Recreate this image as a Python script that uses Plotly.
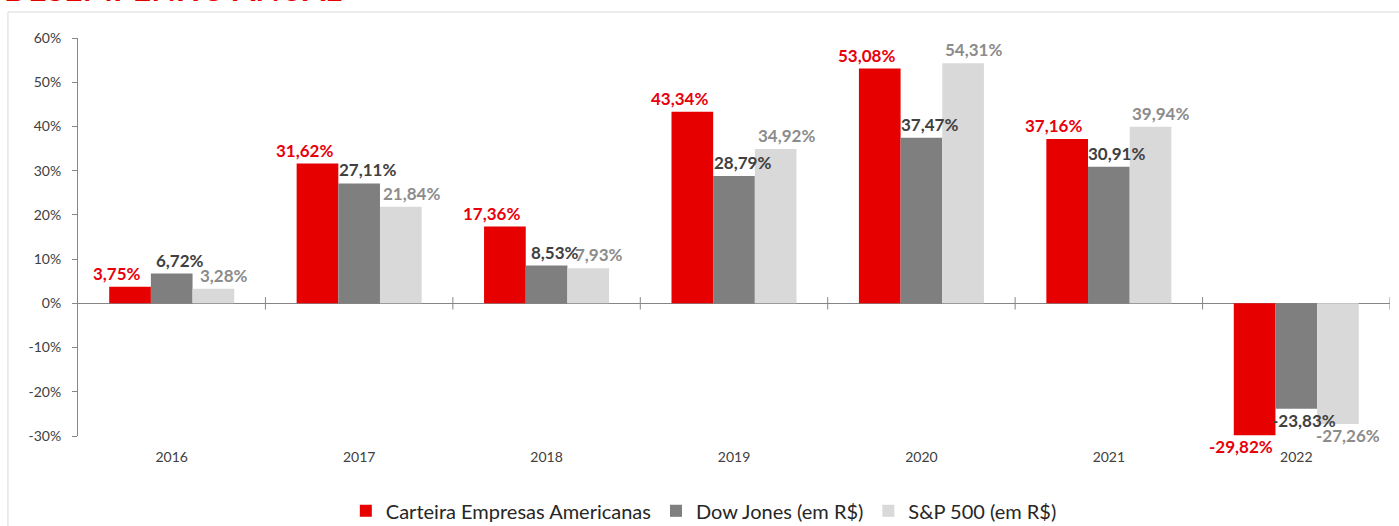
import plotly.graph_objects as go

years = ["2016", "2017", "2018", "2019", "2020", "2021", "2022"]
carteira = [3.75, 31.62, 17.36, 43.34, 53.08, 37.16, -29.82]
dow = [6.72, 27.11, 8.53, 28.79, 37.47, 30.91, -23.83]
sp500 = [3.28, 21.84, 7.93, 34.92, 54.31, 39.94, -27.26]
y_ticks = [-30, -20, -10, 0, 10, 20, 30, 40, 50, 60]

# name, values, bar colour, label colour, label horizontal shift (px)
series = [
    ("Carteira Empresas Americanas", carteira, "#E60000", "#E8000B", -55),
    ("Dow Jones (em R$)", dow, "#7F7F7F", "#404040", 8),
    ("S&P 500 (em R$)", sp500, "#D9D9D9", "#8C8C8C", 52),
]

def fmt(v):
    return "<b>" + f"{v:.2f}".replace(".", ",") + "%</b>"

fig = go.Figure()
annotations = []
for name, vals, col, tcol, shift in series:
    fig.add_trace(go.Bar(
        name=name, x=years, y=vals, marker=dict(color=col, line=dict(width=0)),
        cliponaxis=False,
    ))
    for i, v in enumerate(vals):
        annotations.append(dict(
            x=i, y=v, xref="x", yref="y", text=fmt(v), showarrow=False,
            xanchor="center", yanchor="bottom" if v >= 0 else "top",
            xshift=shift, yshift=1,
            font=dict(family="Lato", size=17, color=tcol),
        ))

shapes = []
# category boundary tick marks on the zero axis
for i in range(len(years)):
    shapes.append(dict(type="line", xref="x", yref="y", x0=i + 0.5, x1=i + 0.5,
                       y0=-1.4, y1=1.4, line=dict(color="#868686", width=1)))
# chart-area border
shapes.append(dict(type="rect", xref="paper", yref="paper", x0=-0.0534, x1=1.2,
                   y0=-0.5, y1=1.0653, line=dict(color="#D9D9D9", width=1), layer="below"))

annotations.append(dict(text="<b>DESEMPENHO ANUAL</b>", xref="paper", yref="paper",
                        x=-0.058, xanchor="left", y=1.0704, yanchor="bottom", showarrow=False,
                        font=dict(family="Lato", size=32, color="#E60000")))

fig.update_layout(
    width=1399, height=526,
    margin=dict(l=78, r=9, t=38, b=90, autoexpand=False),
    paper_bgcolor="white", plot_bgcolor="white",
    barmode="group", bargap=0.333, bargroupgap=0,
    font=dict(family="Lato", color="#404040"),
    shapes=shapes,
    showlegend=True,
    legend=dict(orientation="h", x=0.477, xanchor="center", y=-0.188, yanchor="middle",
                font=dict(size=20, color="#262626"), traceorder="normal"),
    xaxis=dict(type="category", range=[-0.5, 6.5], showline=False, showgrid=False,
               ticks="outside", ticklen=8, tickcolor="rgba(0,0,0,0)", automargin=False,
               tickfont=dict(size=14, color="#404040"), fixedrange=True),
    yaxis=dict(range=[-30, 60], tickvals=y_ticks, ticktext=[f"{t}%" for t in y_ticks],
               showgrid=False, automargin=False,
               showline=True, linecolor="#868686", linewidth=1,
               ticks="outside", ticklen=5, tickcolor="#868686",
               zeroline=True, zerolinecolor="#868686", zerolinewidth=1,
               tickfont=dict(size=14, color="#404040"), ticklabelstandoff=8),
    annotations=annotations,
)

fig.write_html("out.html")
